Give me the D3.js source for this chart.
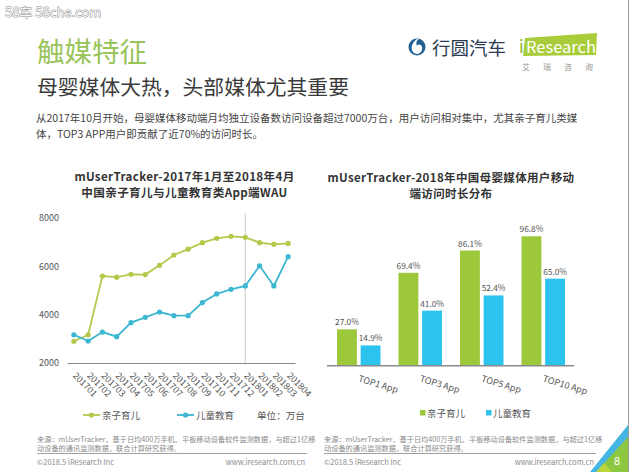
<!DOCTYPE html>
<html><head><meta charset="utf-8">
<script src="https://cdn.jsdelivr.net/npm/d3@7"></script>
<style>
body{margin:0;background:#fff}
svg{display:block}
text{font-family:"Noto Sans CJK SC","Noto Sans",sans-serif}
</style>
</head><body>
<svg id="c" width="630" height="472"></svg>
<script>
// ---------- data ----------
const months = ["201701","201702","201703","201704","201705","201706","201707","201708","201709","201710","201711","201712","201801","201802","201803","201804"];
const parentingWAU = [2900,3170,5600,5550,5670,5660,6040,6470,6710,6980,7160,7240,7200,6980,6910,6950];
const educationWAU = [3170,2910,3280,3090,3670,3890,4110,3960,3960,4500,4860,5050,5190,6020,5190,6400];
const wauTicks = [2000,4000,6000,8000];
const seriesNames = ["亲子育儿","儿童教育"];
const topGroups = ["TOP1 App","TOP3 App","TOP5 App","TOP10 App"];
const parentingShare = [27.0,69.4,86.1,96.8];
const educationShare = [14.9,41.0,52.4,65.0];

const GREEN_LINE = "#b4c94b", BLUE_LINE = "#3cb7d1";
const GREEN_BAR = "#9dc83c", BLUE_BAR = "#2cc3ee";

const svg = d3.select("#c");

// ---------- header ----------
svg.append("text").attr("x",5).attr("y",17).attr("font-size",13)
  .attr("fill","#f6f6f6").attr("stroke","#8d8d8d").attr("stroke-width",0.9)
  .attr("paint-order","stroke").text("58车  58che.com");

svg.append("text").attr("x",37).attr("y",62).attr("font-size",27.5)
  .attr("fill","#98c45a").text("触媒特征");
svg.append("text").attr("x",37).attr("y",95).attr("font-size",20.8)
  .attr("fill","#3a3a3a").text("母婴媒体大热，头部媒体尤其重要");
const para = ["从2017年10月开始，母婴媒体移动端月均独立设备数访问设备超过7000万台，用户访问相对集中，尤其亲子育儿类媒",
              "体，TOP3 APP用户即贡献了近70%的访问时长。"];
const pt = svg.append("text").attr("font-size",10.5).attr("fill","#444");
pt.selectAll("tspan").data(para).join("tspan")
  .attr("x",36).attr("y",(d,i)=>122+i*15.5).text(d=>d);

// logo 行圆汽车
const lg = svg.append("g");
lg.append("circle").attr("cx",417).attr("cy",47).attr("r",8.5).attr("fill","#1f5f92");
lg.append("path").attr("d","M417,39 C411,43 410,50 414,53 C418,56 423,52 422,47 C421,44 418,44 417,46 C416,43 416,41 419,39 Z").attr("fill","#fff");
lg.append("text").attr("x",432).attr("y",55).attr("font-size",18.5).attr("fill","#2a3b52").text("行圆汽车");
// iResearch
lg.append("path").attr("d","M525,38 L597,33 L596,55 L523,56 Z").attr("fill","#a9cd3a");
lg.append("text").attr("x",519).attr("y",53).attr("font-size",17).attr("fill","#8db52c").text("i");
lg.append("text").attr("x",526).attr("y",53).attr("font-size",16.5).attr("fill","#fff").text("Research");
lg.append("text").attr("x",522).attr("y",70).attr("font-size",8).attr("fill","#999")
  .attr("letter-spacing",13).text("艾瑞咨询");

// ---------- left: line chart ----------
const t1 = svg.append("text").attr("text-anchor","middle").attr("font-size",11.6)
  .attr("letter-spacing",0.35).attr("font-weight","bold").attr("fill","#333");
t1.selectAll("tspan").data(["mUserTracker-2017年1月至2018年4月","中国亲子育儿与儿童教育类App端WAU"])
  .join("tspan").attr("x",184.5).attr("y",(d,i)=>180.5+i*16.9).text(d=>d);

const x = d3.scalePoint().domain(months).range([67,295]).padding(0.48);
const y = d3.scaleLinear().domain([2000,8000]).range([363,218]);

// vertical marker at 201801
svg.append("line").attr("x1",x("201801")).attr("x2",x("201801"))
  .attr("y1",213).attr("y2",363).attr("stroke","#c8c8c8").attr("stroke-width",1);

const xAx = svg.append("g").attr("transform","translate(0,363)")
  .call(d3.axisBottom(x).tickSize(0).tickSizeOuter(0));
xAx.select(".domain").attr("stroke","#8a8a8a").attr("stroke-width",1.2);
xAx.selectAll("text").attr("x",0).attr("y",0).attr("dy","0.35em")
  .attr("text-anchor","start").attr("transform","translate(0,11) rotate(45)")
  .attr("font-size",9).attr("fill","#555").attr("font-family","'Noto Sans',sans-serif");

const yAx = svg.append("g").attr("transform","translate(62,0)")
  .call(d3.axisLeft(y).tickValues(wauTicks).tickFormat(d3.format("d")).tickSize(0).tickPadding(3));
yAx.select(".domain").remove();
yAx.selectAll("text").attr("font-size",9).attr("fill","#555").attr("font-family","'Noto Sans',sans-serif");

const line = d3.line().x((d,i)=>x(months[i])).y(d=>y(d));
[[parentingWAU,GREEN_LINE],[educationWAU,BLUE_LINE]].forEach(([vals,col])=>{
  svg.append("path").datum(vals).attr("d",line).attr("fill","none")
    .attr("stroke",col).attr("stroke-width",1.8);
  svg.append("g").selectAll("circle").data(vals).join("circle")
    .attr("cx",(d,i)=>x(months[i])).attr("cy",d=>y(d)).attr("r",2.6).attr("fill",col);
});

// legend (line chart)
const legL = [{name:seriesNames[0],col:GREEN_LINE,x0:83},{name:seriesNames[1],col:BLUE_LINE,x0:177}];
legL.forEach(l=>{
  svg.append("line").attr("x1",l.x0).attr("x2",l.x0+17).attr("y1",415).attr("y2",415)
    .attr("stroke",l.col).attr("stroke-width",1.8);
  svg.append("circle").attr("cx",l.x0+8.5).attr("cy",415).attr("r",2.6).attr("fill",l.col);
  svg.append("text").attr("x",l.x0+19).attr("y",418.5).attr("font-size",9.5).attr("fill","#555").text(l.name);
});
svg.append("text").attr("x",257).attr("y",418.5).attr("font-size",9.6).attr("fill","#555").text("单位：万台");

// ---------- right: bar chart ----------
const t2 = svg.append("text").attr("text-anchor","middle").attr("font-size",11.5)
  .attr("letter-spacing",0.35).attr("font-weight","bold").attr("fill","#333");
t2.selectAll("tspan").data(["mUserTracker-2018年中国母婴媒体用户移动","端访问时长分布"])
  .join("tspan").attr("x",451).attr("y",(d,i)=>181.5+i*16.8).text(d=>d);

const x0 = d3.scaleBand().domain(topGroups).range([328,574]).paddingInner(0.293).paddingOuter(0.1465);
const x1 = d3.scaleBand().domain(seriesNames).range([0,x0.bandwidth()]).paddingInner(0.16);
const yb = d3.scaleLinear().domain([0,100]).range([365.3,232]);
const barData = topGroups.map((g,i)=>[
  {g,s:seriesNames[0],v:parentingShare[i],col:GREEN_BAR},
  {g,s:seriesNames[1],v:educationShare[i],col:BLUE_BAR}]).flat();

svg.append("g").selectAll("rect").data(barData).join("rect")
  .attr("x",d=>x0(d.g)+x1(d.s)).attr("width",x1.bandwidth())
  .attr("y",d=>yb(d.v)).attr("height",d=>yb(0)-yb(d.v)).attr("fill",d=>d.col);
svg.append("g").selectAll("text").data(barData).join("text")
  .attr("x",d=>x0(d.g)+x1(d.s)+x1.bandwidth()/2).attr("y",d=>yb(d.v)-4)
  .attr("text-anchor","middle").attr("font-size",8.3).attr("fill","#555")
  .attr("font-family","'DejaVu Sans',sans-serif").text(d=>d.v.toFixed(1)+"%");

const bAx = svg.append("g").attr("transform","translate(0,365.3)")
  .call(d3.axisBottom(x0).tickSize(0).tickSizeOuter(0));
bAx.select(".domain").attr("stroke","#8a8a8a").attr("stroke-width",1.4).attr("d","M327,0.5H574");
bAx.selectAll("text").attr("x",0).attr("y",0).attr("dy","0.8em").attr("text-anchor","start")
  .attr("transform","translate(1,9) rotate(17)").attr("font-size",9).attr("fill","#555")
  .attr("font-family","'DejaVu Sans',sans-serif");

// legend (bar chart)
[{name:seriesNames[0],col:GREEN_BAR,x0:420},{name:seriesNames[1],col:BLUE_BAR,x0:486}].forEach(l=>{
  svg.append("rect").attr("x",l.x0).attr("y",410).attr("width",5.5).attr("height",5.5).attr("fill",l.col);
  svg.append("text").attr("x",l.x0+7).attr("y",416.8).attr("font-size",9.5).attr("fill","#555").text(l.name);
});

// ---------- footers ----------
function footer(x0, x1){
  const g = svg.append("g");
  const src = g.append("text").attr("font-size",7.2).attr("fill","#8a8a8a");
  src.selectAll("tspan").data(["来源：mUserTracker，基于日均400万手机、平板移动设备软件监测数据，与超过1亿移",
                               "动设备的通讯监测数据，联合计算研究获得。"])
    .join("tspan").attr("x",x0).attr("y",(d,i)=>441.5+i*9).text(d=>d);
  g.append("line").attr("x1",x0).attr("x2",x1).attr("y1",453.5).attr("y2",453.5)
    .attr("stroke","#a0a0a0").attr("stroke-width",1);
  g.append("text").attr("x",x0).attr("y",464.5).attr("font-size",7.5).attr("fill","#8a8a8a")
    .text("©2018.5 iResearch Inc");
  g.append("text").attr("x",x1-2).attr("y",464.5).attr("font-size",7.5).attr("fill","#8a8a8a")
    .attr("text-anchor","end").text("www.iresearch.com.cn");
}
footer(37,307);
footer(324,596);

// page corner decoration
svg.append("path").attr("d","M628,425 L628,472 L590,472 Z").attr("fill","#45b6e4");
svg.append("path").attr("d","M628,437 L628,472 L596,472 Z").attr("fill","#8dc63f");
svg.append("path").attr("d","M604,463 L596,472 L612,472 Z").attr("fill","#cddc39").attr("opacity",0.7);
svg.append("text").attr("x",617).attr("y",465).attr("text-anchor","middle").attr("font-size",11)
  .attr("fill","#fff").text("8");
svg.append("line").attr("x1",628.5).attr("x2",628.5).attr("y1",0).attr("y2",472)
  .attr("stroke","#9a9a9a").attr("stroke-width",1);
</script>
</body></html>
